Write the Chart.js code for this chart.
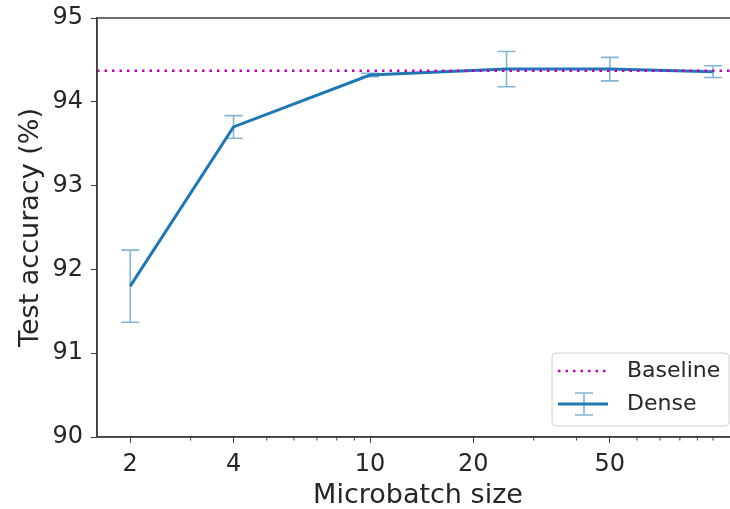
<!DOCTYPE html>
<html>
<head>
<meta charset="utf-8">
<script src="https://cdn.jsdelivr.net/npm/chart.js@4/dist/chart.umd.min.js"></script>
<style>
  html, body { margin: 0; padding: 0; overflow: hidden; background: #fff; }
  #wrap { width: 744px; height: 509px; }
</style>
</head>
<body>
<div id="wrap"><canvas id="acc-chart"></canvas></div>
<script>
// values
const batchSizes = [2, 4, 10, 25, 50, 100];
const denseAcc = [91.80, 93.70, 94.32, 94.39, 94.39, 94.36];
const denseErr = [0.43, 0.135, 0.02, 0.21, 0.14, 0.07];
const baselineAcc = 94.37;
const xTicks = [2, 4, 10, 20, 50];
const xMinorTicks = [3, 5, 6, 7, 8, 9, 30, 40, 60, 70, 80, 90, 100];
const yTicks = [90, 91, 92, 93, 94, 95];

const xMin = 1.6, xMax = 119;
const FONT = "DejaVu Sans";
const TEXT = "#262626";
const AXIS = "#404040";
const BLUE = "#1f77b4";
const MAGENTA = "#bf00bf";

const denseData = batchSizes.map((b, i) => ({ x: b, y: denseAcc[i] }));
const baselineData = [{ x: xMin, y: baselineAcc }, { x: xMax, y: baselineAcc }];

const errorBars = {
    id: 'errorBars',
    beforeDatasetsDraw(chart) {
        const ctx = chart.ctx;
        const xs = chart.scales.x, ys = chart.scales.y;
        ctx.save();
        ctx.strokeStyle = 'rgba(31,119,180,0.55)';
        ctx.lineWidth = 1.6;
        batchSizes.forEach((b, i) => {
            const px = xs.getPixelForValue(b);
            const top = ys.getPixelForValue(denseAcc[i] + denseErr[i]);
            const bot = ys.getPixelForValue(denseAcc[i] - denseErr[i]);
            ctx.beginPath();
            ctx.moveTo(px, top); ctx.lineTo(px, bot);
            ctx.moveTo(px - 9, top); ctx.lineTo(px + 9, top);
            ctx.moveTo(px - 9, bot); ctx.lineTo(px + 9, bot);
            ctx.stroke();
        });
        ctx.restore();
    }
};

const frameAndLegend = {
    id: 'frameAndLegend',
    afterDraw(chart) {
        const ctx = chart.ctx;
        const a = chart.chartArea;
        const xs = chart.scales.x;
        ctx.save();
        // box around axes
        ctx.strokeStyle = AXIS;
        ctx.lineWidth = 1.5;
        ctx.strokeRect(a.left, a.top, a.right - a.left, a.bottom - a.top);
        // minor ticks on log axis
        ctx.lineWidth = 1;
        ctx.beginPath();
        xMinorTicks.forEach(v => {
            const px = xs.getPixelForValue(v);
            ctx.moveTo(px, a.bottom);
            ctx.lineTo(px, a.bottom + 3.5);
        });
        ctx.stroke();

        // legend
        const lx = 552, ly = 353, lw = 177, lh = 73;
        ctx.beginPath();
        ctx.roundRect(lx, ly, lw, lh, 4);
        ctx.fillStyle = 'rgba(255,255,255,0.8)';
        ctx.fill();
        ctx.strokeStyle = '#d0d0d0';
        ctx.lineWidth = 1;
        ctx.stroke();

        ctx.strokeStyle = MAGENTA;
        ctx.lineWidth = 2.5;
        ctx.setLineDash([2.5, 5]);
        ctx.beginPath();
        ctx.moveTo(558, 371); ctx.lineTo(608, 371);
        ctx.stroke();
        ctx.setLineDash([]);

        ctx.strokeStyle = 'rgba(31,119,180,0.55)';
        ctx.lineWidth = 1.6;
        ctx.beginPath();
        ctx.moveTo(584, 393); ctx.lineTo(584, 415);
        ctx.moveTo(575, 393); ctx.lineTo(593, 393);
        ctx.moveTo(575, 415); ctx.lineTo(593, 415);
        ctx.stroke();
        ctx.strokeStyle = BLUE;
        ctx.lineWidth = 3;
        ctx.beginPath();
        ctx.moveTo(558, 404); ctx.lineTo(608, 404);
        ctx.stroke();

        ctx.fillStyle = TEXT;
        ctx.font = '22px "' + FONT + '"';
        ctx.textBaseline = 'middle';
        ctx.fillText('Baseline', 627, 371);
        ctx.fillText('Dense', 627, 404);
        ctx.restore();
    }
};

const ctx = document.getElementById('acc-chart').getContext('2d');
new Chart(ctx, {
    type: 'line',
    data: {
        datasets: [{
            label: 'Baseline',
            data: baselineData,
            borderColor: MAGENTA,
            borderWidth: 2.5,
            borderDash: [2.5, 5],
            pointRadius: 0,
            fill: false
        }, {
            label: 'Dense',
            data: denseData,
            borderColor: BLUE,
            borderWidth: 3,
            pointRadius: 0,
            tension: 0,
            fill: false
        }]
    },
    options: {
        responsive: true,
        maintainAspectRatio: false,
        animation: false,
        layout: { padding: { top: 18, right: 5, left: 0, bottom: 0 } },
        plugins: {
            legend: { display: false },
            tooltip: { enabled: false }
        },
        scales: {
            x: {
                type: 'logarithmic',
                min: xMin,
                max: xMax,
                afterBuildTicks: scale => { scale.ticks = xTicks.map(v => ({ value: v })); },
                afterFit: scale => {
                    scale.height = 72;
                    scale.paddingLeft = 0;
                    scale.paddingRight = 0;
                },
                ticks: {
                    autoSkip: false,
                    maxRotation: 0,
                    color: TEXT,
                    font: { family: FONT, size: 24 },
                    padding: 7,
                    callback: v => String(v)
                },
                grid: { drawOnChartArea: false, tickLength: 6, tickColor: AXIS },
                border: { color: AXIS, width: 1.5 },
                title: {
                    display: true,
                    text: 'Microbatch size',
                    color: TEXT,
                    font: { family: FONT, size: 27, lineHeight: 1 },
                    padding: { top: 0, bottom: 0 }
                }
            },
            y: {
                min: 90,
                max: 95,
                afterBuildTicks: scale => { scale.ticks = yTicks.map(v => ({ value: v })); },
                afterFit: scale => {
                    scale.width = 97;
                    scale.paddingTop = 0;
                    scale.paddingBottom = 0;
                },
                ticks: {
                    color: TEXT,
                    font: { family: FONT, size: 24 },
                    padding: 8
                },
                grid: { drawOnChartArea: false, tickLength: 6, tickColor: AXIS },
                border: { color: AXIS, width: 1.5 },
                title: {
                    display: true,
                    text: 'Test accuracy (%)',
                    color: TEXT,
                    font: { family: FONT, size: 27 },
                    padding: { top: 15, bottom: 0 }
                }
            }
        }
    },
    plugins: [errorBars, frameAndLegend]
});
</script>
</body>
</html>
